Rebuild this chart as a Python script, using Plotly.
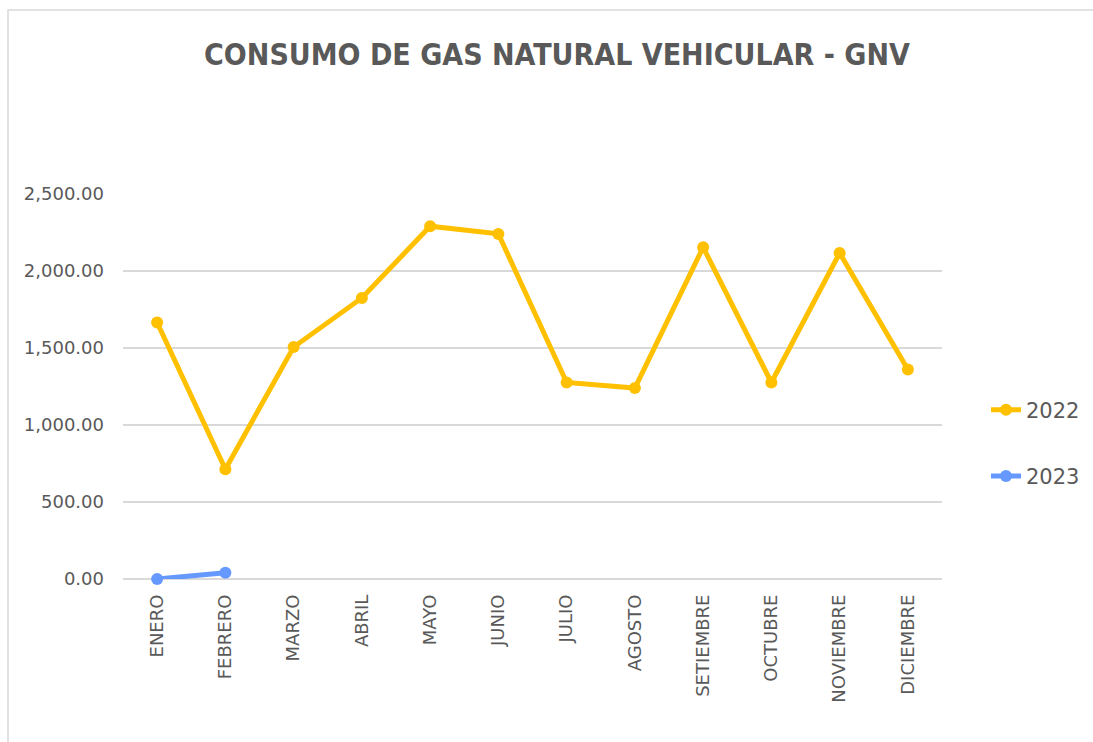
import plotly.graph_objects as go

months = ["ENERO", "FEBRERO", "MARZO", "ABRIL", "MAYO", "JUNIO", "JULIO",
          "AGOSTO", "SETIEMBRE", "OCTUBRE", "NOVIEMBRE", "DICIEMBRE"]
vals_2022 = [1666, 713, 1506, 1825, 2291, 2241, 1276, 1240, 2154, 1276, 2117, 1361]
months_2023 = ["ENERO", "FEBRERO"]
vals_2023 = [0, 41]
y_ticks = [0, 500, 1000, 1500, 2000, 2500]

W, H = 1093, 742
L, R, T, B = 123, 942, 194, 579

fig = go.Figure()
fig.add_trace(go.Scatter(
    x=months, y=vals_2022, name="2022", mode="lines+markers",
    line=dict(color="#FFC000", width=5), marker=dict(color="#FFC000", size=12),
    cliponaxis=False, legendgroup="a"))
fig.add_trace(go.Scatter(
    x=months_2023, y=vals_2023, name="2023", mode="lines+markers",
    line=dict(color="#6699FF", width=5), marker=dict(color="#6699FF", size=12),
    cliponaxis=False, legendgroup="b"))

tick_font = dict(family="DejaVu Sans", size=18, color="#595959")

fig.update_layout(
    width=W, height=H,
    margin=dict(l=L, r=W - R, t=T, b=H - B, pad=0, autoexpand=False),
    paper_bgcolor="white", plot_bgcolor="white",
    title=dict(text="<b>CONSUMO DE GAS NATURAL VEHICULAR - GNV</b>",
               font=dict(family="DejaVu Sans Condensed, Liberation Sans", size=30, color="#595959"),
               x=557 / W, xref="container", xanchor="center",
               y=1 - 54 / H, yref="container", yanchor="middle"),
    xaxis=dict(categoryorder="array", categoryarray=months, tickangle=-90,
               range=[-0.5, len(months) - 0.5],
               showgrid=False, showline=False, zeroline=False, ticks="",
               tickfont=tick_font, ticklabelstandoff=11),
    yaxis=dict(range=[0, 2500], tickvals=y_ticks, tickformat=",.2f",
               showgrid=True, gridcolor="#D9D9D9", gridwidth=1.5,
               zeroline=True, zerolinecolor="#D9D9D9", zerolinewidth=1.5,
               showline=False, ticks="", tickfont=tick_font, ticklabelstandoff=18),
    legend=dict(x=(986 - L) / (R - L), xanchor="left", y=(B - 443) / (B - T), yanchor="middle",
                font=dict(family="DejaVu Sans", size=21, color="#595959"),
                tracegroupgap=36, bgcolor="rgba(0,0,0,0)"),
    showlegend=True,
)

# outer chart border
fig.add_shape(type="rect", xref="paper", yref="paper",
              x0=(8 - L) / (R - L), x1=(1110 - L) / (R - L),
              y0=(B - 760) / (B - T), y1=(B - 10) / (B - T),
              line=dict(color="#D9D9D9", width=1.5), layer="below")

fig.write_html("out.html", config={"displayModeBar": False},
               post_script="document.body.style.margin='0';")
